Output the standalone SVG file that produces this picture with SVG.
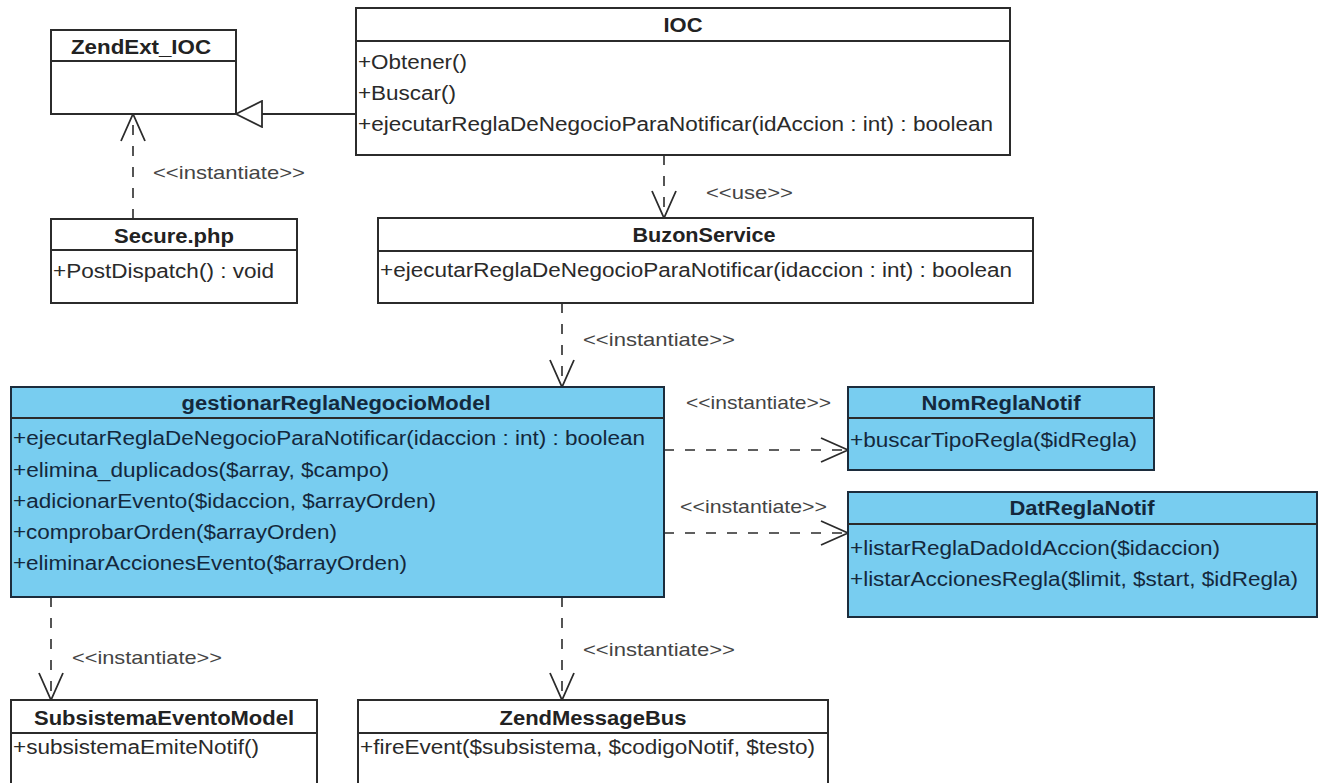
<svg xmlns="http://www.w3.org/2000/svg" width="1323" height="783" viewBox="0 0 1323 783">
  <style>
    .box { fill: #ffffff; stroke: #2b2b2b; stroke-width: 2; }
    .blue { fill: #78cdf0; stroke: #1c2c3c; stroke-width: 2; }
    .sep { stroke: #2b2b2b; stroke-width: 2; }
    .title { font-family: "Liberation Sans", Arial, sans-serif; font-weight: bold; font-size: 20px; fill: #222; text-anchor: middle; }
    .op { font-family: "Liberation Sans", Arial, sans-serif; font-size: 19.5px; fill: #2a2a2a; }
    .blue-t { fill: #14283c; }
    .lbl { font-family: "Liberation Sans", Arial, sans-serif; font-size: 19px; fill: #444; }
    .dep { fill: none; stroke: #2b2b2b; stroke-width: 1.6; stroke-dasharray: 10 11; marker-end: url(#open); }
    .gen { fill: none; stroke: #2b2b2b; stroke-width: 1.8; marker-end: url(#tri); }
  </style>
  <defs>
    <marker id="open" viewBox="0 0 29 26" refX="28" refY="13" markerWidth="29" markerHeight="26" orient="auto" markerUnits="userSpaceOnUse">
      <path d="M1,1 L28,13 L1,25" fill="none" stroke="#2b2b2b" stroke-width="1.8"/>
    </marker>
    <marker id="tri" viewBox="0 0 28 28" refX="27" refY="14" markerWidth="28" markerHeight="28" orient="auto" markerUnits="userSpaceOnUse">
      <path d="M1,1 L27,14 L1,27 Z" fill="#ffffff" stroke="#2b2b2b" stroke-width="1.8"/>
    </marker>
  </defs>
  <rect width="1323" height="783" fill="#ffffff"/>

  <!-- relationships -->
  <g id="connectors">
    <path class="gen" d="M356,114 H236"/>
    <path class="dep" d="M133,219 V114"/>
    <path class="dep" d="M664,155 V218"/>
    <path class="dep" d="M562,303 V387"/>
    <path class="dep" d="M664,450 H848"/>
    <path class="dep" d="M664,533 H848"/>
    <path class="dep" d="M51,597 V700"/>
    <path class="dep" d="M562,597 V700"/>
    <text class="lbl" x="153" y="179" textLength="152" lengthAdjust="spacingAndGlyphs">&lt;&lt;instantiate&gt;&gt;</text>
    <text class="lbl" x="706" y="199" textLength="87" lengthAdjust="spacingAndGlyphs">&lt;&lt;use&gt;&gt;</text>
    <text class="lbl" x="583" y="346" textLength="152" lengthAdjust="spacingAndGlyphs">&lt;&lt;instantiate&gt;&gt;</text>
    <text class="lbl" x="686" y="409" textLength="145" lengthAdjust="spacingAndGlyphs">&lt;&lt;instantiate&gt;&gt;</text>
    <text class="lbl" x="680" y="513" textLength="147" lengthAdjust="spacingAndGlyphs">&lt;&lt;instantiate&gt;&gt;</text>
    <text class="lbl" x="72" y="664" textLength="150" lengthAdjust="spacingAndGlyphs">&lt;&lt;instantiate&gt;&gt;</text>
    <text class="lbl" x="583" y="656" textLength="152" lengthAdjust="spacingAndGlyphs">&lt;&lt;instantiate&gt;&gt;</text>
  </g>

  <g id="ZendExt_IOC">
    <rect class="box" x="51" y="30" width="185" height="84"/>
    <line class="sep" x1="51" y1="61" x2="236" y2="61"/>
    <text class="title" x="141" y="54" textLength="140" lengthAdjust="spacingAndGlyphs">ZendExt_IOC</text>
  </g>

  <g id="IOC">
    <rect class="box" x="356" y="8" width="654" height="147"/>
    <line class="sep" x1="356" y1="41" x2="1010" y2="41"/>
    <text class="title" x="683" y="32" textLength="39" lengthAdjust="spacingAndGlyphs">IOC</text>
    <text class="op" x="358" y="69" textLength="109" lengthAdjust="spacingAndGlyphs">+Obtener()</text>
    <text class="op" x="358" y="100" textLength="98" lengthAdjust="spacingAndGlyphs">+Buscar()</text>
    <text class="op" x="358" y="131" textLength="635" lengthAdjust="spacingAndGlyphs">+ejecutarReglaDeNegocioParaNotificar(idAccion : int) : boolean</text>
  </g>

  <g id="Secure.php">
    <rect class="box" x="51" y="219" width="246" height="84"/>
    <line class="sep" x1="51" y1="250" x2="297" y2="250"/>
    <text class="title" x="174" y="243" textLength="120" lengthAdjust="spacingAndGlyphs">Secure.php</text>
    <text class="op" x="53" y="278" textLength="221" lengthAdjust="spacingAndGlyphs">+PostDispatch() : void</text>
  </g>

  <g id="BuzonService">
    <rect class="box" x="378" y="218" width="655" height="85"/>
    <line class="sep" x1="378" y1="251" x2="1033" y2="251"/>
    <text class="title" x="704" y="242" textLength="143" lengthAdjust="spacingAndGlyphs">BuzonService</text>
    <text class="op" x="380" y="277" textLength="632" lengthAdjust="spacingAndGlyphs">+ejecutarReglaDeNegocioParaNotificar(idaccion : int) : boolean</text>
  </g>

  <g id="gestionarReglaNegocioModel">
    <rect class="blue" x="11" y="387" width="653" height="210"/>
    <line class="sep" x1="11" y1="418" x2="664" y2="418"/>
    <text class="title blue-t" x="336" y="410" textLength="309" lengthAdjust="spacingAndGlyphs">gestionarReglaNegocioModel</text>
    <text class="op blue-t" x="13" y="445" textLength="632" lengthAdjust="spacingAndGlyphs">+ejecutarReglaDeNegocioParaNotificar(idaccion : int) : boolean</text>
    <text class="op blue-t" x="13" y="477" textLength="376" lengthAdjust="spacingAndGlyphs">+elimina_duplicados($array, $campo)</text>
    <text class="op blue-t" x="13" y="508" textLength="423" lengthAdjust="spacingAndGlyphs">+adicionarEvento($idaccion, $arrayOrden)</text>
    <text class="op blue-t" x="13" y="539" textLength="324" lengthAdjust="spacingAndGlyphs">+comprobarOrden($arrayOrden)</text>
    <text class="op blue-t" x="13" y="570" textLength="394" lengthAdjust="spacingAndGlyphs">+eliminarAccionesEvento($arrayOrden)</text>
  </g>

  <g id="NomReglaNotif">
    <rect class="blue" x="848" y="387" width="306" height="83"/>
    <line class="sep" x1="848" y1="418" x2="1154" y2="418"/>
    <text class="title blue-t" x="1001" y="410" textLength="159" lengthAdjust="spacingAndGlyphs">NomReglaNotif</text>
    <text class="op blue-t" x="850" y="447" textLength="287" lengthAdjust="spacingAndGlyphs">+buscarTipoRegla($idRegla)</text>
  </g>

  <g id="DatReglaNotif">
    <rect class="blue" x="848" y="492" width="469" height="125"/>
    <line class="sep" x1="848" y1="524" x2="1317" y2="524"/>
    <text class="title blue-t" x="1082" y="515" textLength="145" lengthAdjust="spacingAndGlyphs">DatReglaNotif</text>
    <text class="op blue-t" x="850" y="555" textLength="370" lengthAdjust="spacingAndGlyphs">+listarReglaDadoIdAccion($idaccion)</text>
    <text class="op blue-t" x="850" y="586" textLength="448" lengthAdjust="spacingAndGlyphs">+listarAccionesRegla($limit, $start, $idRegla)</text>
  </g>

  <g id="SubsistemaEventoModel">
    <rect class="box" x="11" y="700" width="306" height="95"/>
    <line class="sep" x1="11" y1="733" x2="317" y2="733"/>
    <text class="title" x="164" y="725" textLength="260" lengthAdjust="spacingAndGlyphs">SubsistemaEventoModel</text>
    <text class="op" x="13" y="754" textLength="246" lengthAdjust="spacingAndGlyphs">+subsistemaEmiteNotif()</text>
  </g>

  <g id="ZendMessageBus">
    <rect class="box" x="358" y="700" width="470" height="95"/>
    <line class="sep" x1="358" y1="733" x2="828" y2="733"/>
    <text class="title" x="593" y="725" textLength="187" lengthAdjust="spacingAndGlyphs">ZendMessageBus</text>
    <text class="op" x="360" y="754" textLength="455" lengthAdjust="spacingAndGlyphs">+fireEvent($subsistema, $codigoNotif, $testo)</text>
  </g>
</svg>
